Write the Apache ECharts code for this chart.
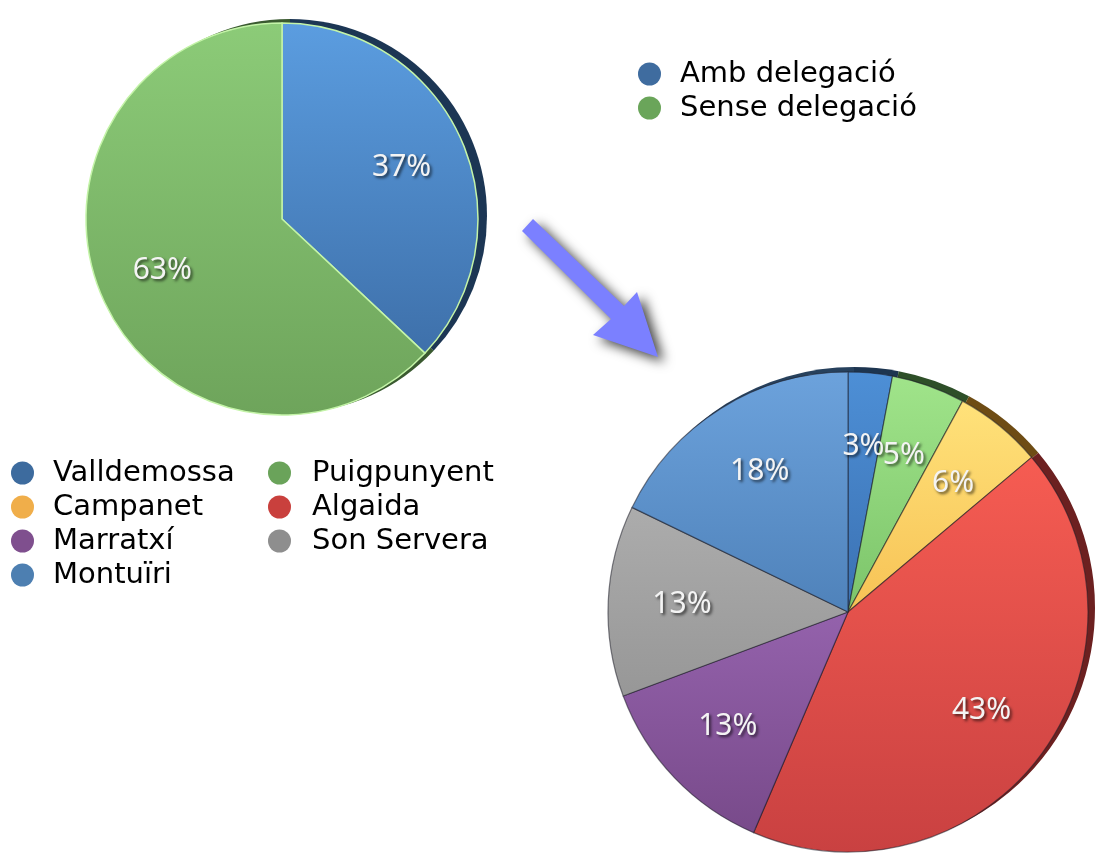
<!DOCTYPE html>
<html>
<head>
<meta charset="utf-8">
<script src="https://cdn.jsdelivr.net/npm/echarts@6/dist/echarts.min.js"></script>
<style>
html,body{margin:0;padding:0;background:#fff;}
#chart{width:1107px;height:853px;}
</style>
</head>
<body>
<div id="chart"></div>
<script>
// ---- data ----
const delegCats = ['Amb delegació', 'Sense delegació'];
const delegVals = [37, 63];
const townCats = ['Valldemossa', 'Puigpunyent', 'Campanet', 'Algaida', 'Marratxí', 'Son Servera', 'Montuïri'];
const townVals = [3, 5, 6, 43, 13, 13, 18];
const legendColA = ['Valldemossa', 'Campanet', 'Marratxí', 'Montuïri'];
const legendColB = ['Puigpunyent', 'Algaida', 'Son Servera'];

// ---- styles ----
const delegTop = ['#5b9de0', '#8ccb78'];
const delegBot = ['#3e70aa', '#6ea45b'];
const delegDark = ['#1c3654', '#3a5a30'];
const townTop = ['#4d8fd6', '#a0e48a', '#ffe27a', '#f65c52', '#9462ac', '#acacac', '#6ca2dc'];
const townBot = ['#3b71b2', '#7cc46a', '#f7c255', '#c94141', '#784a8a', '#979797', '#4f82ba'];
const townDark = ['#1d3550', '#2e4f28', '#6e4c14', '#6c2020', '#3c2646', '#4a4a4a', '#27415d'];
const legendColor = {
  'Amb delegació': '#3f6c9f', 'Sense delegació': '#6aa55a',
  'Valldemossa': '#3d6b9e', 'Campanet': '#f0ae4a', 'Marratxí': '#7f4f8e', 'Montuïri': '#4d7fb1',
  'Puigpunyent': '#6aa35a', 'Algaida': '#c9403d', 'Son Servera': '#8e8e8e'
};

function grad(a, b) {
  return new echarts.graphic.LinearGradient(0, 0, 0, 1, [{offset: 0, color: a}, {offset: 1, color: b}]);
}
function mainData(cats, vals, tops, bots) {
  return cats.map((n, i) => ({name: n, value: vals[i], itemStyle: {color: grad(tops[i], bots[i])}}));
}
function darkData(cats, vals, darks) {
  return cats.map((n, i) => ({name: n, value: vals[i], itemStyle: {color: darks[i]}}));
}
function plainData(cats, vals) {
  return cats.map((n, i) => ({name: n, value: vals[i]}));
}
function legendItems(names) {
  return names.map(n => ({name: n, itemStyle: {color: legendColor[n], borderWidth: 0, shadowBlur: 0}}));
}

const FONT = 'DejaVu Sans';
const labelStyle = {
  show: true, position: 'inside', formatter: '{c}%',
  color: '#f4f4f4', fontSize: 30, fontFamily: 'Noto Sans',
  textShadowColor: 'rgba(0,0,0,0.65)', textShadowBlur: 3, textShadowOffsetX: 2, textShadowOffsetY: 2
};
const legendBase = {
  orient: 'vertical', icon: 'circle', itemWidth: 23, itemHeight: 23, itemGap: 4, padding: 0,
  selectedMode: false,
  textStyle: {fontFamily: FONT, fontSize: 29, color: '#000', lineHeight: 30, padding: [0, 0, 0, 14]},
  itemStyle: {borderWidth: 0, shadowBlur: 0}
};

const L = {c: [282, 219], r: 196};
const R = {c: [848, 612], r: 240};

const option = {
  animation: false,
  backgroundColor: '#ffffff',
  legend: [
    Object.assign({}, legendBase, {left: 638, top: 59, itemGap: 4, data: legendItems(delegCats)}),
    Object.assign({}, legendBase, {left: 11, top: 458, data: legendItems(legendColA)}),
    Object.assign({}, legendBase, {left: 268, top: 458, textStyle: Object.assign({}, legendBase.textStyle, {padding: [0, 0, 0, 16]}), data: legendItems(legendColB)})
  ],
  graphic: [{
    type: 'polygon', silent: true,
    shape: {points: [[533, 219], [624, 306], [637, 292], [658, 357], [593, 335], [611, 319], [522, 231]]},
    style: {fill: '#7b80ff', shadowBlur: 12, shadowColor: 'rgba(0,0,0,0.75)', shadowOffsetX: 6, shadowOffsetY: 5}
  }],
  series: [
    // left pie: dark rim
    {type: 'pie', silent: true, center: [L.c[0] + 8, L.c[1] - 3], radius: L.r + 1, startAngle: 90, clockwise: true,
      label: {show: false}, labelLine: {show: false}, emphasis: {disabled: true},
      data: darkData(delegCats, delegVals, delegDark)},
    // left pie: main
    {type: 'pie', silent: true, center: L.c, radius: L.r, startAngle: 90, clockwise: true,
      label: {show: false}, labelLine: {show: false}, emphasis: {disabled: true},
      itemStyle: {borderColor: '#c4f4a8', borderWidth: 1.5},
      data: mainData(delegCats, delegVals, delegTop, delegBot)},
    // left pie: labels
    {type: 'pie', silent: true, center: L.c, radius: [L.r * 0.3, L.r], startAngle: 90, clockwise: true,
      avoidLabelOverlap: false, minShowLabelAngle: 0, labelLayout: {hideOverlap: false},
      itemStyle: {color: 'rgba(0,0,0,0)', borderWidth: 0}, label: labelStyle, labelLine: {show: false},
      emphasis: {disabled: true}, data: plainData(delegCats, delegVals)},
    // right pie: dark rim
    {type: 'pie', silent: true, center: [R.c[0] + 6, R.c[1] - 4], radius: R.r + 1, startAngle: 90, clockwise: true,
      label: {show: false}, labelLine: {show: false}, emphasis: {disabled: true},
      data: darkData(townCats, townVals, townDark)},
    // right pie: main
    {type: 'pie', silent: true, center: R.c, radius: R.r, startAngle: 90, clockwise: true,
      label: {show: false}, labelLine: {show: false}, emphasis: {disabled: true},
      itemStyle: {borderColor: 'rgba(30,30,40,0.55)', borderWidth: 1.2},
      data: mainData(townCats, townVals, townTop, townBot)},
    // right pie: labels (transparent ring)
    {type: 'pie', silent: true, center: R.c, radius: [R.r * 0.36, R.r], startAngle: 90, clockwise: true,
      avoidLabelOverlap: false, minShowLabelAngle: 0, labelLayout: {hideOverlap: false},
      itemStyle: {color: 'rgba(0,0,0,0)', borderWidth: 0}, label: labelStyle, labelLine: {show: false},
      emphasis: {disabled: true}, data: plainData(townCats, townVals)}
  ]
};

const chart = echarts.init(document.getElementById('chart'), null, {renderer: 'canvas'});
chart.setOption(option);
</script>
</body>
</html>
